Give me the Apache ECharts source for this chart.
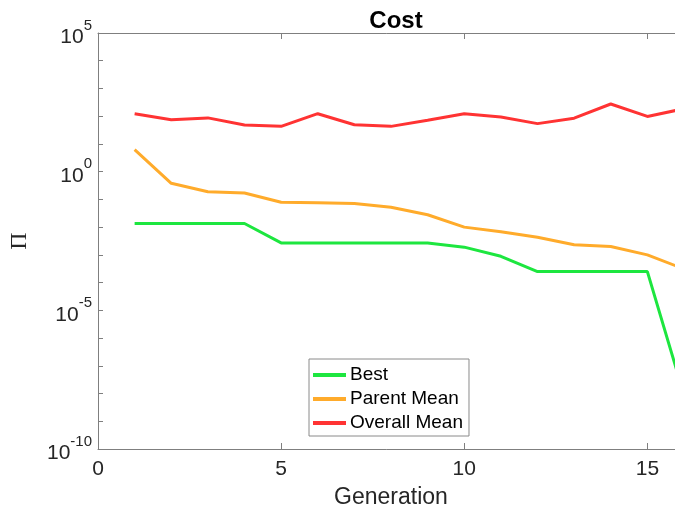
<!DOCTYPE html>
<html>
<head>
<meta charset="utf-8">
<script src="https://cdn.jsdelivr.net/npm/echarts@6/dist/echarts.min.js"></script>
<style>
  html, body { margin: 0; padding: 0; background: #fff; }
  #chart { width: 675px; height: 512px; }
</style>
</head>
<body>
<div id="chart"></div>
<script>
// generations
const generations = [1, 2, 3, 4, 5, 6, 7, 8, 9, 10, 11, 12, 13, 14, 15, 16]

// cost values per generation
const bestCost = [0.0135, 0.0135, 0.0135, 0.0135, 0.0027, 0.0027, 0.0027, 0.0027, 0.0027,
  0.0019, 8.9e-4, 2.5e-4, 2.5e-4, 2.5e-4, 2.5e-4, 9e-9]
const parentMean = [6.2, 0.38, 0.19, 0.17, 0.079, 0.076, 0.071, 0.052, 0.028,
  0.010, 0.0068, 0.0043, 0.0023, 0.0020, 0.0010, 3.1e-4]
const overallMean = [123, 74, 87, 48, 43, 123, 49, 43, 71, 123, 93, 54, 85, 275, 98, 186]

const seriesNames = ['Best', 'Parent Mean', 'Overall Mean']
const seriesColors = ['#1de63f', '#ffab2b', '#ff3333']

const pairs = (ys) => generations.map((g, i) => [g, ys[i]])

const axisGray = '#7f7f7f'
const labelColor = '#262626'
const font = '"Liberation Sans", Arial, Helvetica, sans-serif'

const chart = echarts.init(document.getElementById('chart'))

const option = {
  animation: false,
  title: {
    text: 'Cost',
    left: 391,
    top: 4,
    textAlign: 'center',
    textStyle: { fontFamily: font, fontSize: 24, fontWeight: 'bold', color: '#000' }
  },
  // plot box runs a bit past the right edge, like the cropped original
  grid: { left: 98, top: 33, width: 586, height: 416, outerBoundsMode: 'none', containLabel: false },
  legend: {
    orient: 'vertical',
    left: 309,
    top: 359,
    padding: [4, 6, 1, 4],
    itemGap: 0,
    itemWidth: 33,
    itemHeight: 4,
    icon: 'rect',
    borderColor: '#8a8a8a',
    borderWidth: 1,
    backgroundColor: '#fff',
    textStyle: { fontFamily: font, fontSize: 19, color: '#000', lineHeight: 24, padding: [0, 0, 0, -1] },
    data: seriesNames
  },
  xAxis: [
    {
      type: 'value',
      min: 0,
      max: 16,
      interval: 5,
      name: 'Generation',
      nameLocation: 'middle',
      nameGap: 37,
      nameTextStyle: { fontFamily: font, fontSize: 23, color: labelColor },
      axisLine: { show: true, lineStyle: { color: axisGray } },
      axisTick: { show: true, inside: true, length: 6, lineStyle: { color: axisGray } },
      axisLabel: { fontFamily: font, fontSize: 21, color: labelColor, margin: 10, showMaxLabel: false },
      splitLine: { show: false }
    },
    {
      type: 'value',
      position: 'top',
      min: 0,
      max: 16,
      interval: 5,
      axisLine: { show: true, lineStyle: { color: axisGray } },
      axisTick: { show: true, inside: true, length: 6, lineStyle: { color: axisGray } },
      axisLabel: { show: false },
      splitLine: { show: false }
    }
  ],
  yAxis: {
    type: 'log',
    logBase: 10,
    min: 1e-10,
    max: 1e5,
    interval: 1,
    name: 'Π',
    nameLocation: 'middle',
    nameRotate: 90,
    nameGap: 66,
    nameTextStyle: { fontFamily: '"Liberation Serif", "DejaVu Serif", serif', fontSize: 24, color: labelColor },
    axisLine: { show: true, lineStyle: { color: axisGray } },
    axisTick: { show: true, inside: true, length: 5, lineStyle: { color: axisGray } },
    splitLine: { show: false },
    axisLabel: {
      margin: 6,
      formatter: (v) => {
        const e = Math.round(Math.log10(v))
        if (e % 5 !== 0) return ''
        return '{b|10}{s|' + e + '}'
      },
      rich: {
        b: { fontFamily: font, fontSize: 21, color: labelColor, verticalAlign: 'bottom', lineHeight: 30 },
        s: { fontFamily: font, fontSize: 15, color: labelColor, verticalAlign: 'top', lineHeight: 30 }
      }
    }
  },
  series: [
    { name: seriesNames[0], type: 'line', data: pairs(bestCost) },
    { name: seriesNames[1], type: 'line', data: pairs(parentMean) },
    { name: seriesNames[2], type: 'line', data: pairs(overallMean) }
  ].map((s, i) => ({
    ...s,
    showSymbol: false,
    symbol: 'none',
    color: seriesColors[i],
    lineStyle: { width: 3, color: seriesColors[i] }
  }))
}

chart.setOption(option)
</script>
</body>
</html>
